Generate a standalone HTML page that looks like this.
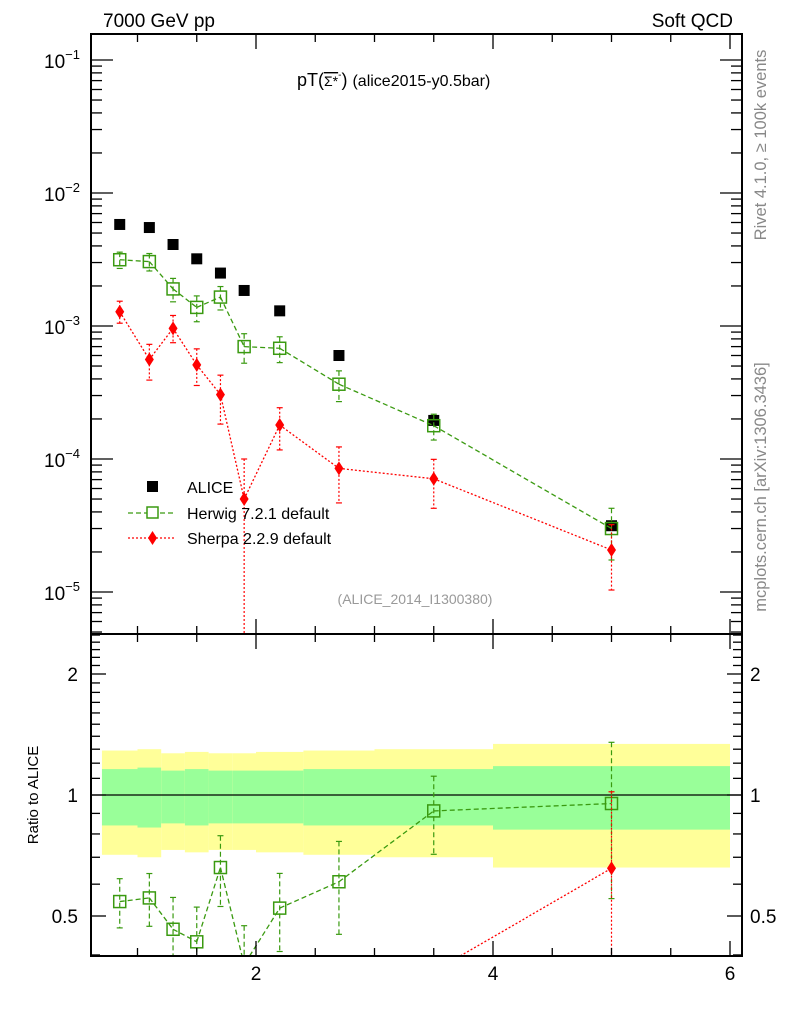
<!DOCTYPE html>
<html><head><meta charset="utf-8"><style>
html,body{margin:0;padding:0;background:#fff;overflow:hidden;width:786px;height:1024px;}
svg{display:block;font-family:"Liberation Sans",sans-serif;}
</style></head><body>
<svg id="chart" width="786" height="1024" viewBox="0 0 786 1024" xmlns="http://www.w3.org/2000/svg">
<text x="103" y="27" font-size="19">7000 GeV pp</text>
<text x="733" y="27" font-size="19" text-anchor="end">Soft QCD</text>
<text x="297" y="86" font-size="18">pT(<tspan font-size="14" text-decoration="overline">Σ*</tspan><tspan font-size="10" dy="-8">-</tspan><tspan dy="8">)</tspan> <tspan font-size="16">(alice2015-y0.5bar)</tspan></text>
<text transform="translate(766,145) rotate(-90)" font-size="16.5" fill="#888" text-anchor="middle">Rivet 4.1.0, ≥ 100k events</text>
<text transform="translate(766,487) rotate(-90)" font-size="16.5" fill="#888" text-anchor="middle">mcplots.cern.ch [arXiv:1306.3436]</text>
<text x="415" y="604" font-size="14" fill="#999" text-anchor="middle">(ALICE_2014_I1300380)</text>
<text transform="translate(38,795) rotate(-90)" font-size="15" text-anchor="middle">Ratio to ALICE</text>
<g id="bands"></g>
<g id="marks"></g>
<g id="axes"></g>
<g>
<rect x="147" y="481" width="11" height="11" fill="#000"/>
<text x="187" y="493" font-size="16">ALICE</text>
<line x1="128" y1="513" x2="176" y2="513" stroke="#3a9a10" stroke-width="1.3" stroke-dasharray="5,3"/>
<rect x="147" y="507" width="11" height="11" fill="#fff" stroke="#3a9a10" stroke-width="1.5"/>
<text x="187" y="519" font-size="16">Herwig 7.2.1 default</text>
<line x1="128" y1="538" x2="176" y2="538" stroke="#f00" stroke-width="1.3" stroke-dasharray="2,2"/>
<path d="M152.5,531 L157,538 L152.5,545 L148,538 Z" fill="#f00"/>
<text x="187" y="544" font-size="16">Sherpa 2.2.9 default</text>
</g>
</svg>
<script>
const binLo = [0.7,1.0,1.2,1.4,1.6,1.8,2.0,2.4,3.0,4.0];
const binHi = [1.0,1.2,1.4,1.6,1.8,2.0,2.4,3.0,4.0,6.0];
const xCenters = [0.85,1.1,1.3,1.5,1.7,1.9,2.2,2.7,3.5,5.0];
const aliceVals = [5.8e-3,5.5e-3,4.1e-3,3.2e-3,2.5e-3,1.85e-3,1.3e-3,6.0e-4,1.95e-4,3.15e-5];
const aliceStatErr = [0.16,0.17,0.15,0.16,0.15,0.15,0.15,0.16,0.16,0.18];
const aliceTotErr = [0.29,0.30,0.27,0.28,0.27,0.27,0.28,0.29,0.30,0.34];
const herwigVals = [3.15e-3,3.05e-3,1.9e-3,1.38e-3,1.65e-3,7.0e-4,6.8e-4,3.65e-4,1.78e-4,3.0e-5];
const herwigErr = [0.14,0.15,0.2,0.22,0.2,0.25,0.22,0.26,0.22,0.42];
const sherpaVals = [1.28e-3,5.6e-4,9.6e-4,5.1e-4,3.05e-4,5.0e-5,1.8e-4,8.5e-5,7.1e-5,2.07e-5];
const sherpaErrUp = [0.2,0.3,0.25,0.32,0.4,1.0,0.35,0.45,0.4,0.55];
const sherpaErrDn = [0.18,0.3,0.22,0.3,0.4,1.0,0.35,0.45,0.4,0.5];
const ratioTicks = [0.5,1,2];
const ratioTickLabels = ["0.5","1","2"];
const xTickLabels = ["2","4","6"];
const xTickVals = [2,4,6];

const NS="http://www.w3.org/2000/svg";
const L=91,R=742,T=34,MB=634,RB=956;
function X(v){return 256+(v-2)*118.5;}
function Y(v){return 60-(Math.log10(v)+1)*133;}
function YR(r){return 795-Math.log2(r)*121;}
function el(tag,attrs,parent){const e=document.createElementNS(NS,tag);for(const k in attrs)e.setAttribute(k,attrs[k]);parent.appendChild(e);return e;}
const bands=document.getElementById('bands'),marks=document.getElementById('marks'),axes=document.getElementById('axes');

for(let i=0;i<binLo.length;i++){
  const top=Math.max(MB,YR(1+aliceTotErr[i])),bot=Math.min(RB,YR(1-aliceTotErr[i]));
  let b=el('rect',{x:X(binLo[i]),y:top,width:X(binHi[i])-X(binLo[i]),height:bot-top,fill:'#ffff99'},bands);
  
  
  let g=el('rect',{x:X(binLo[i]),y:YR(1+aliceStatErr[i]),width:X(binHi[i])-X(binLo[i]),height:YR(1-aliceStatErr[i])-YR(1+aliceStatErr[i]),fill:'#99ff99'},bands);
  
  
}
el('line',{x1:L,x2:R,y1:YR(1),y2:YR(1),stroke:'#000','stroke-width':1.2},bands);

function clipSeg(x1,y1,x2,y2,ymin,ymax){
  let t0=0,t1=1;const dy=y2-y1;
  for(const [p,q] of [[-dy,y1-ymin],[dy,ymax-y1]]){
    if(p===0){if(q<0)return null;continue;}
    const r=q/p;
    if(p<0){if(r>t1)return null;if(r>t0)t0=r;}else{if(r<t0)return null;if(r<t1)t1=r;}
  }
  return [x1+(x2-x1)*t0,y1+dy*t0,x1+(x2-x1)*t1,y1+dy*t1];
}
function series(vals,upE,dnE,yf,clip,color,dash,shape,name){
  const g=el('g',{},marks);
  
  
  const ymax=clip==='Main'?MB:RB;
  const ymin=clip==='Main'?T:MB;
  const cl=y=>Math.max(ymin,Math.min(ymax,y));
  if(dash!==null){
    let d='';
    for(let i=0;i+1<vals.length;i++){
      const s=clipSeg(X(xCenters[i]),yf(vals[i]),X(xCenters[i+1]),yf(vals[i+1]),ymin,ymax);
      if(s) d+=`M${s[0]},${s[1]} L${s[2]},${s[3]} `;
    }
    if(d) el('path',{d:d,fill:'none',stroke:color,'stroke-width':1.3,'stroke-dasharray':dash},g);
  }
  vals.forEach((v,i)=>{
    const x=X(xCenters[i]);const y=yf(v);
    if(upE){
      const hi=v*(1+upE[i]);const lo=v*(1-dnE[i]);
      const y1=cl(yf(hi)),y2=lo>0?cl(yf(lo)):ymax;
      if(y2>y1){
        el('line',{x1:x,x2:x,y1:y1,y2:y2,stroke:color,'stroke-width':1.2,'stroke-dasharray':dash||'none'},g);
        if(y1>ymin) el('line',{x1:x-3,x2:x+3,y1:y1,y2:y1,stroke:color,'stroke-width':1.2},g);
        if(y2<ymax) el('line',{x1:x-3,x2:x+3,y1:y2,y2:y2,stroke:color,'stroke-width':1.2},g);
      }
    }
    if(y<ymin||y>ymax) return;
    let m;
    if(shape==='fill') m=el('rect',{x:x-5.5,y:y-5.5,width:11,height:11,fill:'#000'},g);
    else if(shape==='open') m=el('rect',{x:x-6,y:y-6,width:12,height:12,fill:'none',stroke:color,'stroke-width':1.5},g);
    else m=el('path',{d:`M${x},${y-7} L${x+4.5},${y} L${x},${y+7} L${x-4.5},${y} Z`,fill:color},g);
    
    
  });
}
series(aliceVals,null,null,Y,'Main','#000',null,'fill','alice-data');
series(herwigVals,herwigErr,herwigErr,Y,'Main','#3a9a10','5,3','open','herwig-series');
series(sherpaVals,sherpaErrUp,sherpaErrDn,Y,'Main','#f00','2,2','diamond','sherpa-series');
const herwigRatio=herwigVals.map((v,i)=>v/aliceVals[i]);
const sherpaRatio=sherpaVals.map((v,i)=>v/aliceVals[i]);
const sherpaRatioErrUp=sherpaErrUp.map((e,i)=>i===8?0.05:e);
series(herwigRatio,herwigErr,herwigErr,YR,'Ratio','#3a9a10','5,3','open','herwig-ratio');
series(sherpaRatio,sherpaRatioErrUp,sherpaErrDn,YR,'Ratio','#f00','2,2','diamond','sherpa-ratio');

el('rect',{x:L,y:T,width:R-L,height:RB-T,fill:'none',stroke:'#000','stroke-width':2},axes);
el('line',{x1:L,x2:R,y1:MB,y2:MB,stroke:'#000','stroke-width':2},axes);
function tick(x1,y1,x2,y2){el('line',{x1,y1,x2,y2,stroke:'#000','stroke-width':1.3},axes);}
for(let v=1;v<=6.001;v+=0.5){
  const x=X(v);const major=Math.abs(v-Math.round(v/2)*2)<1e-6;const len=major?15:8;
  tick(x,T,x,T+len);tick(x,MB,x,MB-len);tick(x,MB,x,MB+len);tick(x,RB,x,RB-len);
}
xTickVals.forEach((v,i)=>{const t=el('text',{x:X(v),y:RB+24,'font-size':19,'text-anchor':'middle'},axes);t.textContent=xTickLabels[i];

});
for(let e=-6;e<=-1;e++){
  for(let m=1;m<=9;m++){
    const v=m*Math.pow(10,e);const y=Y(v);if(y<T||y>MB)continue;
    const len=m===1?22:11;tick(L,y,L+len,y);tick(R,y,R-len,y);
    if(m===1){const t=el('text',{x:80,y:y+8,'font-size':19,'text-anchor':'end'},axes);t.innerHTML='10<tspan font-size="13" dy="-9">−'+(-e)+'</tspan>';
      
      }
  }
}
for(let v=0.4;v<=2.55;v+=0.1){
  const y=YR(v);if(y<MB||y>RB)continue;
  const major=[0.5,1,2].some(t=>Math.abs(t-v)<1e-6);const len=major?15:9;
  tick(L,y,L+len,y);tick(R,y,R-len,y);
}
ratioTicks.forEach((v,i)=>{
  const t=el('text',{x:78,y:YR(v)+7,'font-size':19,'text-anchor':'end'},axes);t.textContent=ratioTickLabels[i];
  
  
  const t2=el('text',{x:750,y:YR(v)+7,'font-size':19},axes);t2.textContent=ratioTickLabels[i];
  
  
});
</script>
</body></html>
